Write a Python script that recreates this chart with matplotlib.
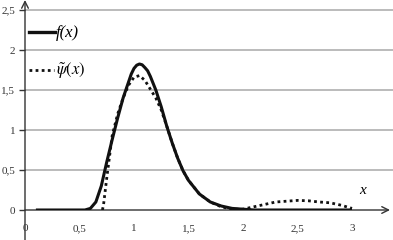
import matplotlib
matplotlib.use("Agg")
import matplotlib.pyplot as plt
from matplotlib.lines import Line2D

# values
f_x = [0.1, 0.55, 0.6, 0.65, 0.7, 0.75, 0.8, 0.85, 0.9, 0.95, 0.975, 1.0, 1.025, 1.05,
       1.075, 1.1, 1.125, 1.15, 1.2, 1.25, 1.3, 1.35, 1.4, 1.45, 1.5, 1.6, 1.7, 1.8,
       1.9, 2.0, 2.1, 3.0]
f_y = [0.0, 0.0, 0.02, 0.1, 0.3, 0.6, 0.88, 1.15, 1.4, 1.6, 1.7, 1.77, 1.81, 1.825,
       1.815, 1.78, 1.74, 1.67, 1.5, 1.29, 1.05, 0.84, 0.65, 0.49, 0.37, 0.2, 0.1, 0.05,
       0.02, 0.01, 0.0, 0.0]

psi_x = [0.71, 0.72, 0.75, 0.8, 0.85, 0.9, 0.95, 1.0, 1.05, 1.1, 1.15, 1.2, 1.25, 1.3,
         1.35, 1.4, 1.45, 1.5, 1.6, 1.7, 1.8, 1.9, 2.0, 2.1, 2.2, 2.3, 2.4, 2.5,
         2.6, 2.7, 2.8, 2.9, 3.0]
psi_y = [0.0, 0.06, 0.4, 0.93, 1.2, 1.4, 1.56, 1.66, 1.68, 1.62, 1.51, 1.4, 1.25, 1.05,
         0.84, 0.65, 0.49, 0.37, 0.2, 0.1, 0.04, 0.01, 0.01, 0.04, 0.07, 0.1, 0.11, 0.12,
         0.115, 0.1, 0.09, 0.06, 0.02]

x_ticks = [0, 0.5, 1, 1.5, 2, 2.5, 3]
y_ticks = [0, 0.5, 1, 1.5, 2, 2.5]

plt.rcParams['font.family'] = ['Liberation Serif', 'DejaVu Serif']
plt.rcParams['mathtext.fontset'] = 'stix'

W, H = 393, 240
fig = plt.figure(figsize=(W / 100, H / 100), dpi=100)
ax = fig.add_axes([25 / W, 30 / H, 368 / W, 210 / H])
ax.set_xlim(0, 368 / 109)
ax.set_ylim(0, 210 / 80)

for s in ax.spines.values():
    s.set_visible(False)

# grid lines
for v in y_ticks[1:]:
    ax.axhline(v, color='#a8a8a8', lw=1.1, zorder=0)

ax.set_xticks(x_ticks)
ax.set_xticklabels([str(t).replace('.', ',') for t in x_ticks])
ax.set_yticks(y_ticks)
ax.set_yticklabels([str(t).replace('.', ',') for t in y_ticks])
ax.tick_params(axis='x', length=0, pad=10, labelsize=8, colors='#333333')
ax.tick_params(axis='y', length=4, width=1, pad=3, labelsize=8, colors='#333333')

# axes with arrows
ax.annotate('', xy=(0, 1.0), xytext=(0, -30 / 210), xycoords='axes fraction',
            arrowprops=dict(arrowstyle='->', color='#333333', lw=1, mutation_scale=12,
                            shrinkA=0, shrinkB=0), annotation_clip=False)
ax.annotate('', xy=(365 / 368, 0), xytext=(0, 0), xycoords='axes fraction',
            arrowprops=dict(arrowstyle='->', color='#333333', lw=1, mutation_scale=12,
                            shrinkA=0, shrinkB=0), annotation_clip=False)
ax.text(3.1, 0.25, 'x', style='italic', fontsize=11, ha='center', va='center')

ax.plot(f_x, f_y, color='#111111', lw=2.2, solid_capstyle='butt', zorder=3)
ax.plot(psi_x, psi_y, color='#111111', lw=2.0, linestyle=(0, (1, 1.2)), zorder=4)

# legend drawn by hand in figure pixels
fig.add_artist(Line2D([29 / W, 55 / W], [1 - 32 / H, 1 - 32 / H], color='#111111',
                      lw=2.4, transform=fig.transFigure))
fig.add_artist(Line2D([29 / W, 54 / W], [1 - 70 / H, 1 - 70 / H], color='#111111',
                      lw=2.0, linestyle=(0, (1, 1.2)), transform=fig.transFigure))
fig.text(56 / W, 1 - 33 / H, 'f(x)', style='italic', fontsize=12, va='center')
fig.text(56 / W, 1 - 71 / H, r'$\tilde{\psi}(x)$', fontsize=12, va='center')

fig.savefig('out.png', dpi=100)
